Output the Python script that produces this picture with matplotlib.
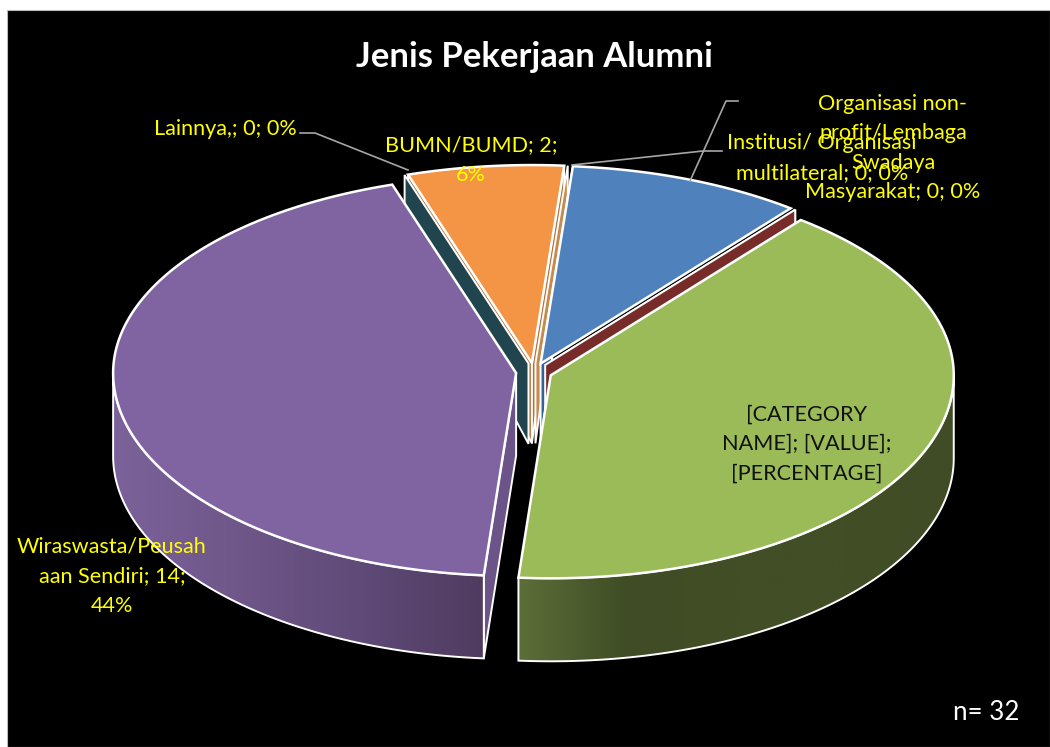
"""
Exploded 3D pie "Jenis Pekerjaan Alumni". matplotlib's pie has no real depth,
so the wedges are projected by hand from the values.
"""
import numpy as np
import matplotlib
matplotlib.use("Agg")
import matplotlib.pyplot as plt
from matplotlib.colors import LinearSegmentedColormap
from matplotlib.patches import Polygon, Rectangle

plt.rcParams["font.family"] = ["Lato", "DejaVu Sans"]

# ---------------------------------------------------------------------------
# Data, clockwise from the slice after BUMN/BUMD
# ---------------------------------------------------------------------------
CATEGORIES = ["Institusi/ Organisasi\nmultilateral", "", "Organisasi non-\nprofit/Lembaga\nSwadaya\nMasyarakat",
              "[CATEGORY\nNAME]", "Wiraswasta/Peusah\naan Sendiri", "Lainnya,", "BUMN/BUMD"]
VALUES = [0, 3, 0, 13, 14, 0, 2]
VALUE_LABELS = ["0", "", "0", "[VALUE]", "14", "0", "2"]
PERCENT_LABELS = ["0%", "", "0%", "[PERCENTAGE]", "44%", "0%", "6%"]
# line break between value and percent where the reference wraps
LABEL_SEPARATORS = ["; ", "", "; ", ";\n", ";\n", "; ", ";\n"]
TOP_COLORS = ["#C58B50", "#4F81BD", "#772C2A", "#9BBB59", "#8064A2", "#20454F", "#F49545"]
WALL_COLORS = ["#C58B50", "#376092", "#772C2A", None, "#6A5488", "#20454F", "#B5713A"]
LABEL_COLORS = ["#FFFF00", None, "#FFFF00", "#111111", "#FFFF00", "#FFFF00", "#FFFF00"]
LABEL_XY = [(822, 158), None, (893, 148), (807, 444), (112, 576), (225, 129), (471, 160)]

TITLE = "Jenis Pekerjaan Alumni"
NOTE = "n= 32"

START_ANGLE = 4.6
CENTER_X, CENTER_Y = 534, 372
RADIUS_X = 403
RADIUS_Y_FRONT, RADIUS_Y_BACK = 203, 198
EXPLODE = 18
MAX_DEPTH = 83

SIDE_STOPS = {
    3: ["#5C6E38", "#3F4C25", "#414E26", "#414E26", "#404C25"],
    4: ["#7B629A", "#6F5789", "#5F4A78", "#503B60"],
}


def depth(y):
    # side walls get shorter only towards the back of the pie (perspective)
    return np.minimum(MAX_DEPTH, 38 + (y - 175) * 0.225)


def rim(apex, theta):
    theta = np.radians(theta)
    ry = np.where(np.cos(theta) > 0, RADIUS_Y_BACK, RADIUS_Y_FRONT)
    return np.column_stack([apex[0] + RADIUS_X * np.sin(theta),
                            apex[1] - ry * np.cos(theta)])


def extrude(points):
    return np.column_stack([points[:, 0], points[:, 1] + depth(points[:, 1])])


def draw_wall(ax, apex, theta, color, z):
    edge = np.vstack([[apex], rim(apex, np.array([theta]))])
    poly = np.vstack([edge, extrude(edge)[::-1]])
    ax.add_patch(Polygon(poly, closed=True, facecolor=color, edgecolor="white", linewidth=1.4, zorder=z))


def draw_side(ax, apex, t1, t2, stops, z):
    t1, t2 = max(t1, 90), min(t2, 270)
    line = rim(apex, np.linspace(t1, t2, 120))
    poly = np.vstack([line, extrude(line)[::-1]])
    cmap = LinearSegmentedColormap.from_list("side", stops)
    x0, x1 = poly[:, 0].min(), poly[:, 0].max()
    y0, y1 = poly[:, 1].min(), poly[:, 1].max()
    im = ax.imshow(np.linspace(0, 1, 256)[None, :], cmap=cmap, extent=(x0, x1, y1, y0),
                   aspect="auto", zorder=z)
    outline = Polygon(poly, closed=True, facecolor="none", edgecolor="white", linewidth=1.4, zorder=z + 0.1)
    ax.add_patch(outline)
    im.set_clip_path(outline)


fig = plt.figure(figsize=(10.5, 7.47), dpi=100, facecolor="white")
ax = fig.add_axes([0, 0, 1, 1])
ax.add_patch(Rectangle((7, 10), 1043, 737, facecolor="black", edgecolor="#BBBBBB", linewidth=0.8, zorder=0))

# slice angles and exploded apexes come from the values
total = sum(VALUES)
ends = START_ANGLE + np.cumsum(VALUES) / total * 360
starts = np.concatenate([[START_ANGLE], ends[:-1]])
mids = np.radians((starts + ends) / 2)
apexes = [(CENTER_X + EXPLODE * np.sin(m), CENTER_Y - EXPLODE * 0.5 * np.cos(m)) for m in mids]

# walls first, the top faces cover most of them
draw_wall(ax, apexes[6], starts[6], WALL_COLORS[6], 1.5)
draw_wall(ax, apexes[6], ends[6], WALL_COLORS[6], 1.5)
for i in range(len(VALUES)):
    if VALUES[i] == 0:
        draw_wall(ax, apexes[i], starts[i], WALL_COLORS[i], 2)
draw_wall(ax, apexes[1], starts[1], WALL_COLORS[1], 2.5)
draw_wall(ax, apexes[2], starts[2], WALL_COLORS[2], 2.6)
draw_wall(ax, apexes[4], starts[4], WALL_COLORS[4], 3)

for i, stops in SIDE_STOPS.items():
    draw_side(ax, apexes[i], starts[i], ends[i], stops, 4)

for i in range(len(VALUES)):
    if VALUES[i] == 0:
        continue
    line = rim(apexes[i], np.linspace(starts[i], ends[i], 150))
    ax.add_patch(Polygon(np.vstack([[apexes[i]], line]), closed=True, facecolor=TOP_COLORS[i],
                         edgecolor="white", linewidth=1.8, joinstyle="miter", zorder=6))

# leader lines
ax.plot([300, 315, 408], [133, 133, 170], color="#A6A6A6", lw=1.2, zorder=7)
ax.plot([572, 703, 722], [165, 151, 151], color="#A6A6A6", lw=1.2, zorder=7)
ax.plot([690, 726, 738], [181, 101, 101], color="#A6A6A6", lw=1.2, zorder=7)

for i in range(len(VALUES)):
    if LABEL_XY[i] is None:
        continue
    label = f"{CATEGORIES[i]}; {VALUE_LABELS[i]}{LABEL_SEPARATORS[i]}{PERCENT_LABELS[i]}"
    ax.text(LABEL_XY[i][0], LABEL_XY[i][1], label, color=LABEL_COLORS[i], fontsize=15.6,
            ha="center", va="center", linespacing=1.6, zorder=8)

ax.text(534, 57, TITLE, color="white", fontsize=24.9, fontweight="bold", ha="center", va="center", zorder=8)
ax.text(986, 712, NOTE, color="white", fontsize=18.6, ha="center", va="center", zorder=8)

ax.set_xlim(0, 1050)
ax.set_ylim(747, 0)
ax.axis("off")
fig.savefig("out.png", dpi=100, facecolor="white")
